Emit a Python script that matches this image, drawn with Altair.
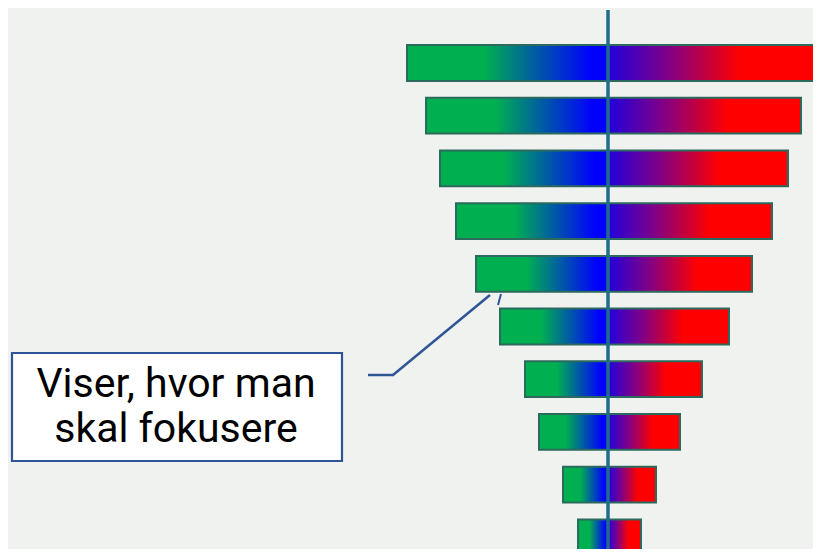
import altair as alt
import pandas as pd

# Tornado bars, top to bottom (arbitrary units, left side negative)
rank = list(range(1, 11))
left_vals = [-201, -182, -168, -152, -132, -108, -83, -69, -45, -30]
right_vals = [212, 193, 180, 164, 144, 121, 94, 72, 48, 33]
callout_lines = ["Viser, hvor man", "skal fokusere"]

df = pd.DataFrame({"rank": rank, "left": left_vals, "right": right_vals, "zero": 0})

W, H = 805, 541
BG = "#EFF2EF"
STROKE = "#2C6A5E"

xs = alt.Scale(domain=[-600, 205])
ys = alt.Scale(domain=rank, range=[28.65, 555.65], paddingInner=0.32, paddingOuter=0.16)

left_grad = alt.LinearGradient(
    gradient="linear", x1=0, x2=1, y1=0, y2=0,
    stops=[
        alt.GradientStop(color="#00B050", offset=0),
        alt.GradientStop(color="#00B050", offset=0.38),
        alt.GradientStop(color="#0000FF", offset=0.92),
        alt.GradientStop(color="#0000FF", offset=1),
    ],
)
right_grad = alt.LinearGradient(
    gradient="linear", x1=0, x2=1, y1=0, y2=0,
    stops=[
        alt.GradientStop(color="#2200DD", offset=0),
        alt.GradientStop(color="#7F0088", offset=0.28),
        alt.GradientStop(color="#D00030", offset=0.5),
        alt.GradientStop(color="#FF0000", offset=0.62),
        alt.GradientStop(color="#FF0000", offset=1),
    ],
)

base = alt.Chart(df)
y_enc = alt.Y("rank:O", scale=ys, axis=None)

left_bars = base.mark_bar(color=left_grad, stroke=STROKE, strokeWidth=2).encode(
    x=alt.X("left:Q", scale=xs, axis=None),
    x2="zero:Q",
    y=y_enc,
)
right_bars = base.mark_bar(color=right_grad, stroke=STROKE, strokeWidth=2).encode(
    x=alt.X("zero:Q", scale=xs, axis=None),
    x2="right:Q",
    y=y_enc,
)

center_line = alt.Chart(pd.DataFrame({"v": [0]})).mark_rule(
    color="#1E6E8A", strokeWidth=3.5
).encode(x=alt.X("v:Q", scale=xs, axis=None), y=alt.value(2), y2=alt.value(H))

# Callout annotation
one = pd.DataFrame({"a": [0]})
box = alt.Chart(one).mark_rect(
    fill="white", stroke="#2F5597", strokeWidth=2.2
).encode(x=alt.value(4), x2=alt.value(334), y=alt.value(345), y2=alt.value(453))

text = alt.Chart(pd.DataFrame({"t": [callout_lines]})).mark_text(
    font="Roboto", fontSize=41, color="black", align="center", baseline="alphabetic",
    lineHeight=45,
).encode(x=alt.value(168), y=alt.value(389), text="t")

conn1 = alt.Chart(one).mark_rule(color="#2F5597", strokeWidth=2.5).encode(
    x=alt.value(360), x2=alt.value(386), y=alt.value(367), y2=alt.value(367)
)
conn2 = alt.Chart(one).mark_rule(color="#2F5597", strokeWidth=2.5).encode(
    x=alt.value(385), x2=alt.value(482), y=alt.value(367), y2=alt.value(287)
)
tip = alt.Chart(one).mark_rule(color="#2F5597", strokeWidth=2).encode(
    x=alt.value(493), x2=alt.value(490), y=alt.value(286), y2=alt.value(297)
)

chart = alt.layer(
    left_bars, right_bars, center_line, box, text, conn1, conn2, tip
).properties(
    width=W, height=H, background=BG, padding=0, autosize=alt.AutoSizeParams(type="none")
).configure_view(stroke=None)

chart.save("out.html", embed_options={"renderer": "svg", "actions": False})
